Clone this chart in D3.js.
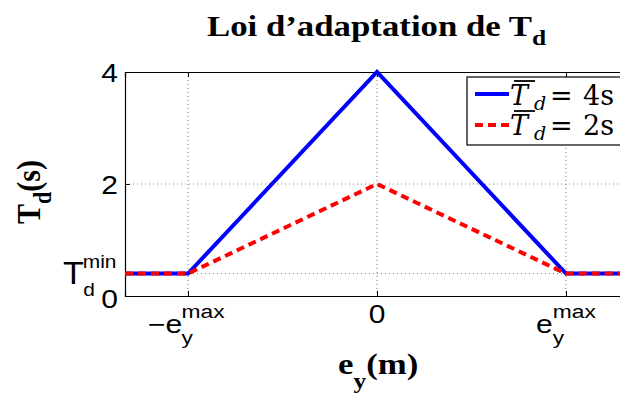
<!DOCTYPE html>
<html><head><meta charset="utf-8">
<script src="https://cdn.jsdelivr.net/npm/d3@7"></script>
<style>body{margin:0;background:#fff}svg{display:block}</style>
</head><body>
<svg id="c" width="620" height="401"></svg>
<script>
// Data
const xValues = [-0.4, -0.3, 0, 0.3, 0.4];          // e_y (emax = 0.3)
const seriesT4 = [0.4, 0.4, 4, 0.4, 0.4];           // Tbar_d = 4s
const seriesT2 = [0.4, 0.4, 2, 0.4, 0.4];           // Tbar_d = 2s
const xTicks = [-0.3, 0, 0.3];
const yTicks = [0, 0.4, 2, 4];
const seriesLabels = ["4s", "2s"];

const svg = d3.select("#c");
const L = 125, T = 72, B = 296, R = 629;
const x = d3.scaleLinear().domain([-0.4, 0.4]).range([L, R]);
const y = d3.scaleLinear().domain([0, 4]).range([B, T]);

const sans = "Liberation Sans";
const serif = "Liberation Serif";
const legFont = "DejaVu Serif";
const SX = 1.2;

function group(px, py, sx) {
  return svg.append("g").attr("transform", `translate(${px},${py}) scale(${sx},1)`);
}

// grid
svg.selectAll(".vg").data(xTicks).join("line")
  .attr("x1", d => x(d)).attr("x2", d => x(d)).attr("y1", T).attr("y2", B)
  .attr("stroke", "#7a7a7a").attr("stroke-width", 1).attr("stroke-dasharray", "1,3");
svg.selectAll(".hg").data(yTicks.filter(d => d > 0 && d < 4)).join("line")
  .attr("x1", L).attr("x2", R).attr("y1", d => y(d)).attr("y2", d => y(d))
  .attr("stroke", "#7a7a7a").attr("stroke-width", 1).attr("stroke-dasharray", "1,3");

// axes (ticks inside)
svg.append("g").attr("transform", `translate(0,${B})`)
  .call(d3.axisBottom(x).tickValues(xTicks).tickSize(-5).tickFormat(""));
svg.append("g").attr("transform", `translate(0,${T})`)
  .call(d3.axisTop(x).tickValues(xTicks).tickSize(-5).tickFormat(""));
svg.append("g").attr("transform", `translate(${L},0)`)
  .call(d3.axisLeft(y).tickValues(yTicks).tickSize(-5).tickFormat(""));
svg.selectAll(".domain").attr("stroke", "#000").attr("stroke-width", 1.2);

// lines
const line = d3.line().x((d, i) => x(xValues[i])).y(d => y(d));
svg.append("path").datum(seriesT4).attr("d", line).attr("fill", "none")
  .attr("stroke", "#0000ff").attr("stroke-width", 4);
svg.append("path").datum(seriesT2).attr("d", line).attr("fill", "none")
  .attr("stroke", "#ff0000").attr("stroke-width", 4).attr("stroke-dasharray", "8,5");

// y tick labels
yTicks.forEach(v => {
  if (v === 0.4) {
    const t = group(63, y(v) + 10, 1.1).append("text")
      .attr("font-family", sans).attr("font-size", 31);
    t.append("tspan").text("T");
    t.append("tspan").attr("font-size", 19).attr("x", 18).attr("dy", -16).text("min");
    t.append("tspan").attr("font-size", 19).attr("x", 18.5).attr("dy", 28).text("d");
  } else {
    group(118, y(v) + 10 + (v === 0 ? 2 : 0), SX).append("text")
      .attr("font-family", sans).attr("font-size", 25).attr("text-anchor", "end").text(String(v));
  }
});

// x tick labels
xTicks.forEach(v => {
  if (v === 0) {
    group(x(v), 323, SX).append("text").attr("font-family", sans).attr("font-size", 25)
      .attr("text-anchor", "middle").text("0");
  } else {
    const neg = v < 0;
    const start = neg ? 148 : 536;
    const t = group(start, 333, SX).append("text").attr("font-family", sans).attr("font-size", 25);
    const eW = neg ? 28 : 14;
    t.append("tspan").text(neg ? "\u2212e" : "e");
    t.append("tspan").attr("font-size", 19).attr("x", eW).attr("dy", -15).text("max");
    t.append("tspan").attr("font-size", 19).attr("x", eW).attr("dy", 26).text("y");
  }
});

// title
const title = group(207, 36, 1.16).append("text").attr("font-family", serif)
  .attr("font-weight", "bold").attr("font-size", 30);
title.append("tspan").text("Loi d\u2019adaptation de T");
title.append("tspan").attr("font-size", 22).attr("dy", 9).text("d");

// x label
const xl = group(338, 374, 1.16).append("text").attr("font-family", serif)
  .attr("font-weight", "bold").attr("font-size", 30);
xl.append("tspan").text("e");
xl.append("tspan").attr("font-size", 22).attr("dy", 14).text("y");
xl.append("tspan").attr("font-size", 30).attr("dy", -14).text("(m)");

// y label
const yl = svg.append("g").attr("transform", "translate(40,224) rotate(-90) scale(1.0,1.12)")
  .append("text").attr("font-family", serif).attr("font-weight", "bold").attr("font-size", 30);
yl.append("tspan").text("T");
yl.append("tspan").attr("font-size", 22).attr("dy", 10).text("d");
yl.append("tspan").attr("font-size", 30).attr("dy", -10).text("(s)");

// legend
svg.append("rect").attr("x", 467).attr("y", 77).attr("width", 170).attr("height", 68)
  .attr("fill", "#fff").attr("stroke", "#000").attr("stroke-width", 1.2);
const legItems = [
  {label: seriesLabels[0], color: "#0000ff", dash: null, yy: 94, base: 105},
  {label: seriesLabels[1], color: "#ff0000", dash: "8,5", yy: 125, base: 135}
];
legItems.forEach(it => {
  svg.append("line").attr("x1", 475).attr("x2", 509).attr("y1", it.yy).attr("y2", it.yy)
    .attr("stroke", it.color).attr("stroke-width", 4).attr("stroke-dasharray", it.dash);
  const t = group(510, it.base, 1.0).append("text").attr("font-family", legFont)
    .attr("font-size", 27).attr("font-weight", 300);
  t.append("tspan").attr("font-style", "italic").text("T");
  t.append("tspan").attr("font-style", "italic").attr("font-size", 19).attr("x", 24).attr("dy", 5).text("d");
  t.append("tspan").attr("x", 40).attr("dy", -5).text("=");
  t.append("tspan").attr("x", 73).text(it.label);
  svg.append("line").attr("x1", 514).attr("x2", 535).attr("y1", it.base - 24).attr("y2", it.base - 24)
    .attr("stroke", "#000").attr("stroke-width", 1.8);
});
</script>
</body></html>
